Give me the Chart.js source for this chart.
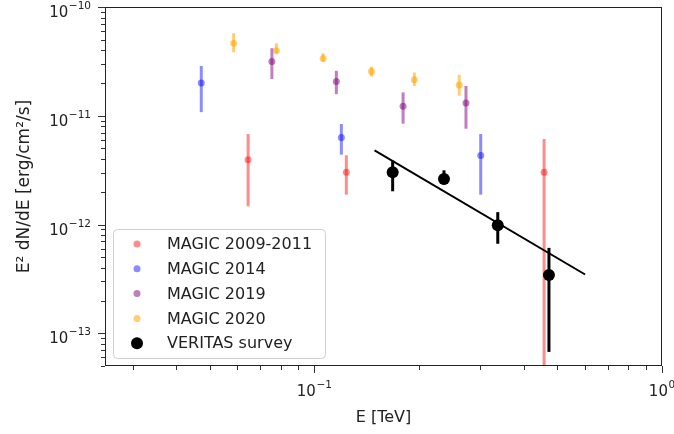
<!DOCTYPE html>
<html>
<head>
<meta charset="utf-8">
<script src="https://cdn.jsdelivr.net/npm/chart.js@4.4.0/dist/chart.umd.min.js"></script>
<style>
  body { margin: 0; background: #fff; }
  #main-chart { display: block; }
</style>
</head>
<body>
<canvas id="main-chart" width="674" height="434"></canvas>
<script>
//data (E in TeV, E^2 dN/dE in erg/cm2/s)
const magic0911_E = [0.0645, 0.1236, 0.458];
const magic0911_F = [3.95e-12, 3.02e-12, 3.02e-12];
const magic0911_lo = [1.47e-12, 1.88e-12, 1e-15];
const magic0911_hi = [6.79e-12, 4.33e-12, 6.1e-12];

const magic2014_E = [0.0473, 0.1196, 0.301];
const magic2014_F = [2.0e-11, 6.32e-12, 4.30e-12];
const magic2014_lo = [1.08e-11, 4.39e-12, 1.88e-12];
const magic2014_hi = [2.87e-11, 8.4e-12, 6.79e-12];

const magic2019_E = [0.0755, 0.1157, 0.180, 0.273];
const magic2019_F = [3.15e-11, 2.07e-11, 1.22e-11, 1.31e-11];
const magic2019_lo = [2.18e-11, 1.58e-11, 8.45e-12, 7.6e-12];
const magic2019_hi = [4.18e-11, 2.59e-11, 1.64e-11, 1.88e-11];

const magic2020_E = [0.0586, 0.0778, 0.106, 0.146, 0.194, 0.261];
const magic2020_F = [4.64e-11, 3.97e-11, 3.36e-11, 2.55e-11, 2.14e-11, 1.92e-11];
const magic2020_lo = [3.84e-11, 3.76e-11, 3.15e-11, 2.30e-11, 1.88e-11, 1.53e-11];
const magic2020_hi = [5.74e-11, 4.64e-11, 3.76e-11, 2.83e-11, 2.50e-11, 2.38e-11];

const veritas_E = [0.168, 0.236, 0.337, 0.473];
const veritas_F = [3.02e-12, 2.62e-12, 9.86e-13, 3.43e-13];
const veritas_lo = [2.02e-12, 2.33e-12, 6.65e-13, 6.74e-14];
const veritas_hi = [3.87e-12, 3.15e-12, 1.30e-12, 6.1e-13];

//power law fit drawn over the VERITAS points
const fit_E = [0.149, 0.601];
const fit_F = [4.81e-12, 3.47e-13];

//axis limits
const x_range = [0.025, 1];
const y_range = [5e-14, 1e-10];

const FONT = "'DejaVu Sans', sans-serif";
const TEXT = '#222';

//build {x,y} points from two arrays
function points(xs, ys) {
  return xs.map((x, i) => ({ x: x, y: ys[i] }));
}

function isDecade(v) {
  const l = Math.log10(v);
  return Math.abs(l - Math.round(l)) < 1e-9;
}

//exponent of a decade, with a real minus sign
function expText(v) {
  return String(Math.round(Math.log10(v))).replace('-', '\u2212');
}

//ticks at 1..9 x 10^n inside the range
function logTicks(scale) {
  const ticks = [];
  const e0 = Math.floor(Math.log10(scale.min));
  const e1 = Math.ceil(Math.log10(scale.max));
  for (let e = e0; e <= e1; e++) {
    for (let k = 1; k < 10; k++) {
      const v = k * Math.pow(10, e);
      if (v >= scale.min * 0.999 && v <= scale.max * 1.001) ticks.push({ value: v, major: k === 1 });
    }
  }
  scale.ticks = ticks;
}

//one scatter dataset per sample, error bars kept next to it
function series(label, xs, ys, lo, hi, color, radius, order) {
  return {
    type: 'scatter',
    label: label,
    data: points(xs, ys),
    errLo: lo,
    errHi: hi,
    errColor: color,
    backgroundColor: color,
    borderWidth: 0,
    pointRadius: radius,
    pointHoverRadius: radius,
    order: order
  };
}

//error bars drawn right before each dataset's markers
const errorBars = {
  id: 'errorBars',
  beforeDatasetDraw(chart, args) {
    const ds = chart.data.datasets[args.index];
    if (!ds.errLo) return;
    const ctx = chart.ctx;
    const xs = chart.scales.x, ys = chart.scales.y;
    const area = chart.chartArea;
    ctx.save();
    ctx.beginPath();
    ctx.rect(area.left, area.top, area.right - area.left, area.bottom - area.top);
    ctx.clip();
    ctx.strokeStyle = ds.errColor;
    ctx.lineWidth = 3;
    ds.data.forEach((p, i) => {
      const px = xs.getPixelForValue(p.x);
      ctx.beginPath();
      ctx.moveTo(px, ys.getPixelForValue(ds.errLo[i]));
      ctx.lineTo(px, ys.getPixelForValue(ds.errHi[i]));
      ctx.stroke();
    });
    ctx.restore();
  }
};

//"10" with a raised exponent, x is the left edge, y the baseline of "10"
function drawPow(ctx, v, x, y) {
  ctx.font = '15px ' + FONT;
  ctx.fillText('10', x, y);
  const w = ctx.measureText('10').width;
  ctx.font = '10.5px ' + FONT;
  ctx.fillText(expText(v), x + w + 0.5, y - 8);
}

function powWidth(ctx, v) {
  ctx.font = '15px ' + FONT;
  const w = ctx.measureText('10').width;
  ctx.font = '10.5px ' + FONT;
  return w + 0.5 + ctx.measureText(expText(v)).width;
}

//frame, tick marks, tick labels and legend box
const frameAndLegend = {
  id: 'frameAndLegend',
  afterDraw(chart) {
    const ctx = chart.ctx;
    const a = chart.chartArea;
    const sx = chart.scales.x, sy = chart.scales.y;
    ctx.save();

    //tick marks, major longer than minor
    ctx.strokeStyle = '#333';
    ctx.lineWidth = 1;
    sx.ticks.forEach(t => {
      const px = Math.round(sx.getPixelForValue(t.value)) + 0.5;
      const len = isDecade(t.value) ? 7 : 4;
      ctx.beginPath();
      ctx.moveTo(px, a.bottom);
      ctx.lineTo(px, a.bottom + len);
      ctx.stroke();
    });
    sy.ticks.forEach(t => {
      const py = Math.round(sy.getPixelForValue(t.value)) + 0.5;
      const len = isDecade(t.value) ? 7 : 4;
      ctx.beginPath();
      ctx.moveTo(a.left, py);
      ctx.lineTo(a.left - len, py);
      ctx.stroke();
    });

    //decade labels
    ctx.fillStyle = TEXT;
    ctx.textBaseline = 'alphabetic';
    ctx.textAlign = 'left';
    sx.ticks.filter(t => isDecade(t.value)).forEach(t => {
      const px = sx.getPixelForValue(t.value);
      drawPow(ctx, t.value, px - powWidth(ctx, t.value) / 2, a.bottom + 30);
    });
    sy.ticks.filter(t => isDecade(t.value)).forEach(t => {
      const py = sy.getPixelForValue(t.value);
      drawPow(ctx, t.value, a.left - 14 - powWidth(ctx, t.value), py + 10);
    });

    //axes box
    ctx.strokeStyle = '#222';
    ctx.strokeRect(a.left + 0.5, a.top + 0.5, a.right - a.left - 1, a.bottom - a.top - 1);

    //legend in the lower left corner
    const items = chart.data.datasets.filter(d => d.errLo);
    const rowH = 24.8;
    const boxX = a.left + 8, boxW = 212;
    const boxH = items.length * rowH + 5;
    const boxY = a.bottom - 8 - boxH;
    ctx.beginPath();
    ctx.roundRect(boxX + 0.5, boxY + 0.5, boxW, boxH, 4);
    ctx.fillStyle = 'rgba(255,255,255,0.8)';
    ctx.fill();
    ctx.strokeStyle = '#d0d0d0';
    ctx.stroke();

    ctx.font = '16px ' + FONT;
    ctx.textBaseline = 'middle';
    items.forEach((d, i) => {
      const cy = boxY + 15 + i * rowH;
      ctx.beginPath();
      ctx.arc(boxX + 24, cy, d.pointRadius, 0, 2 * Math.PI);
      ctx.fillStyle = d.backgroundColor;
      ctx.fill();
      ctx.fillStyle = TEXT;
      ctx.fillText(d.label, boxX + 54, cy + 1);
    });
    ctx.restore();
  }
};

const chart_elem = document.getElementById('main-chart');
const main_chart = new Chart(chart_elem, {
  data: {
    datasets: [
      series('MAGIC 2009-2011', magic0911_E, magic0911_F, magic0911_lo, magic0911_hi, 'rgba(255,0,0,0.45)', 3.5, 6),
      series('MAGIC 2014', magic2014_E, magic2014_F, magic2014_lo, magic2014_hi, 'rgba(0,0,255,0.45)', 3.5, 5),
      series('MAGIC 2019', magic2019_E, magic2019_F, magic2019_lo, magic2019_hi, 'rgba(128,0,128,0.5)', 3.5, 4),
      series('MAGIC 2020', magic2020_E, magic2020_F, magic2020_lo, magic2020_hi, 'rgba(255,165,0,0.55)', 3.5, 3),
      series('VERITAS survey', veritas_E, veritas_F, veritas_lo, veritas_hi, '#000000', 6, 2),
      {
        type: 'line',
        label: 'fit',
        data: points(fit_E, fit_F),
        borderColor: '#000000',
        borderWidth: 2,
        pointRadius: 0,
        fill: false,
        order: 1
      }
    ]
  },
  options: {
    responsive: false,
    animation: false,
    devicePixelRatio: 1,
    layout: { padding: { top: 7, right: 12, left: 0, bottom: 0 } },
    plugins: {
      legend: { display: false },
      tooltip: { enabled: false }
    },
    scales: {
      x: {
        type: 'logarithmic',
        position: 'bottom',
        min: x_range[0],
        max: x_range[1],
        afterBuildTicks: logTicks,
        afterFit: (scale) => {
          scale.height = 68;
          scale.paddingLeft = 0; scale.paddingRight = 0;
        },
        grid: { display: false, drawTicks: false },
        border: { display: false },
        ticks: { display: false, autoSkip: false },
        title: {
          display: true,
          text: 'E [TeV]',
          color: TEXT,
          font: { family: FONT, size: 16 },
          padding: { top: 0, bottom: 7 }
        }
      },
      y: {
        type: 'logarithmic',
        position: 'left',
        min: y_range[0],
        max: y_range[1],
        afterBuildTicks: logTicks,
        afterFit: (scale) => {
          scale.width = 105;
          scale.paddingTop = 0; scale.paddingBottom = 0;
        },
        grid: { display: false, drawTicks: false },
        border: { display: false },
        ticks: { display: false, autoSkip: false },
        title: {
          display: true,
          text: 'E\u00B2 dN/dE [erg/cm\u00B2/s]',
          color: TEXT,
          font: { family: FONT, size: 17 },
          padding: { top: 14, bottom: 0 }
        }
      }
    }
  },
  plugins: [errorBars, frameAndLegend]
});
</script>
</body>
</html>
